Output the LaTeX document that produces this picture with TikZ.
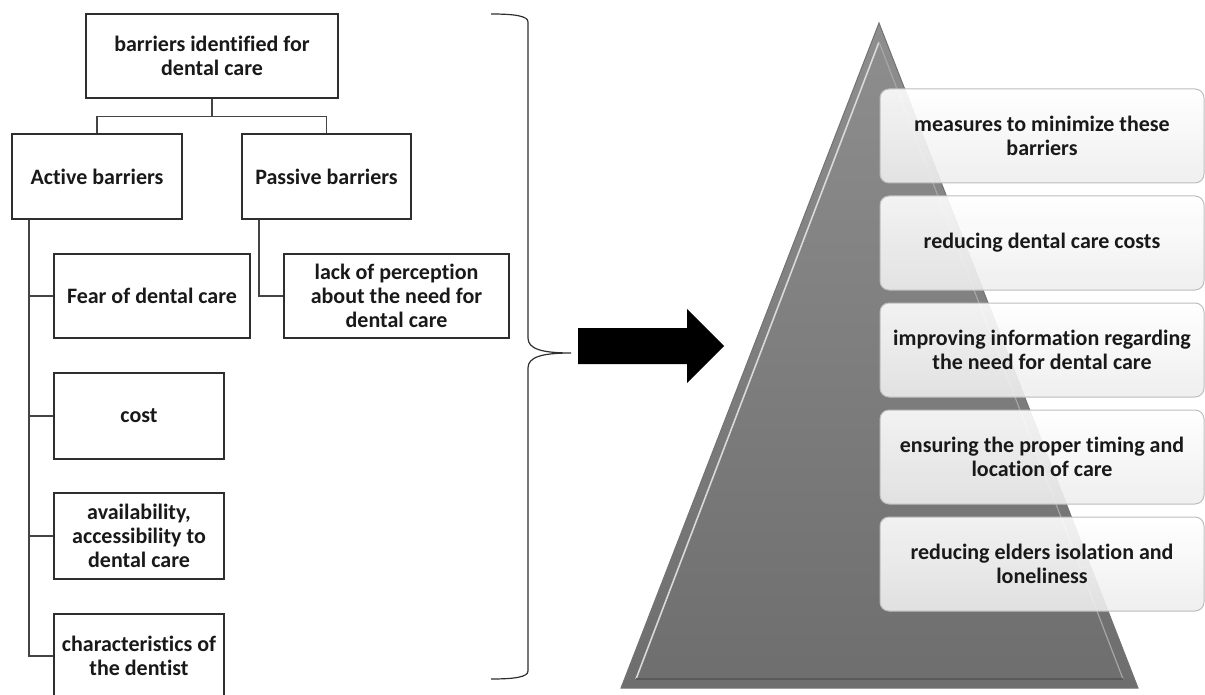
\documentclass[tikz,border=0pt]{standalone}
\usepackage{fontspec}
\setmainfont{Carlito}[Ligatures=NoCommon]
\usetikzlibrary{calc}
\definecolor{edgecol}{HTML}{2E2E2E}
\definecolor{linecol}{HTML}{444444}
\definecolor{pyrtop}{HTML}{8E8E8E}
\definecolor{pyrbot}{HTML}{6E6E6E}
\definecolor{pboxborder}{HTML}{BDBDBD}
\begin{document}
\begin{tikzpicture}[x=1pt,y=-1pt,
  box/.style={draw=edgecol, line width=1.4pt, fill=white, inner sep=0pt, align=center,
    font=\fontsize{22}{24}\selectfont\bfseries, text=black!90},
  conn/.style={draw=linecol, line width=1.2pt},
  pbox/.style={draw=pboxborder, line width=1pt, rounded corners=9pt, inner sep=0pt,
    top color=white, bottom color=black!7, fill opacity=0.9, text opacity=1,
    minimum width=324pt, minimum height=94pt, align=center,
    font=\fontsize{22}{23.5}\selectfont\bfseries, text=black!90},
  bracestyle/.style={draw=edgecol, line width=1.2pt}
]
\useasboundingbox (0,0) rectangle (1205,695);

% left tree
\node[box, minimum width=252pt, minimum height=84pt] (top) at (212,56) {barriers identified for\\dental care};
\node[box, minimum width=170pt, minimum height=85pt] (active) at (97,176.5) {Active barriers};
\node[box, minimum width=169pt, minimum height=85pt] (passive) at (326.5,176.5) {Passive barriers};
\node[box, minimum width=196pt, minimum height=84pt] (fear) at (152,296) {Fear of dental care};
\node[box, minimum width=225pt, minimum height=84pt] (lack) at (396.5,296) {lack of perception\\about the need for\\dental care};
\node[box, minimum width=170pt, minimum height=86pt] (cost) at (139,416) {cost};
\node[box, minimum width=170pt, minimum height=86pt] (avail) at (139,536) {availability,\\accessibility to\\dental care};
\node[box, minimum width=170pt, minimum height=84pt] (charac) at (139,656) {characteristics of\\the dentist};

\draw[conn] (top.south) -- ++(0,18) coordinate (junc);
\draw[conn] (junc) -| (active.north);
\draw[conn] (junc) -| (passive.north);
\draw[conn] ([xshift=-68pt]active.south) |- (fear.west);
\draw[conn] ([xshift=-68pt]active.south) |- (cost.west);
\draw[conn] ([xshift=-68pt]active.south) |- (avail.west);
\draw[conn] ([xshift=-68pt]active.south) |- (charac.west);
\draw[conn] ([xshift=-67.5pt]passive.south) |- (lack.west);

% brace
\draw[bracestyle] (491,14) .. controls (515,14) and (528,16) .. (528,22) -- (528,338)
  .. controls (528,349) and (542,353) .. (571,353)
  .. controls (542,353) and (528,357) .. (528,368) -- (528,671)
  .. controls (528,677) and (515,679) .. (491,679);

% block arrow
\fill[black] (578,328) -- (687,328) -- (687,309) -- (724,346) -- (687,383) -- (687,364) -- (578,364) -- cycle;

% pyramid
\shade[top color=pyrtop, bottom color=pyrbot] (879,23) -- (1138,688) -- (621,688) -- cycle;
\draw[draw=black!55, line width=1pt] (879,23) -- (1138,688) -- (621,688) -- cycle;
\draw[draw=white!85!black, line width=1.6pt] (879,42) -- (636,679);
\draw[draw=black!35, line width=1.2pt] (879,42) -- (1123,679);
\draw[draw=black!65, line width=1.2pt] (636,679) -- (1123,679);

% pyramid boxes
\node[pbox] (p1) at (1042,136) {measures to minimize these\\barriers};
\node[pbox] (p2) at (1042,243) {reducing dental care costs};
\node[pbox] (p3) at (1042,350) {improving information regarding\\the need for dental care};
\node[pbox] (p4) at (1042,457) {ensuring the proper timing and\\location of care};
\node[pbox] (p5) at (1042,564) {reducing elders isolation and\\loneliness};
\end{tikzpicture}
\end{document}
